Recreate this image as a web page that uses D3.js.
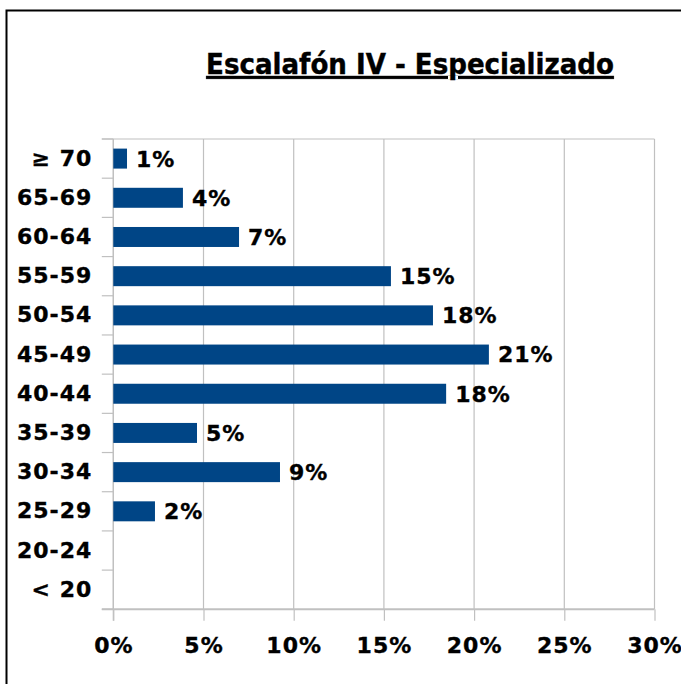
<!DOCTYPE html>
<html>
<head>
<meta charset="utf-8">
<script src="https://cdn.jsdelivr.net/npm/d3@7"></script>
<style>
  body { margin: 0; background: #fff; }
  text { font-family: "DejaVu Sans", Verdana, sans-serif; font-weight: bold; fill: #000; }
  .lbl { font-size: 22px; letter-spacing: 1px; stroke: #000; stroke-width: 0.35px; }
</style>
</head>
<body>
<script>
// Chart data
var chartTitle = "Escalafón IV - Especializado";
var ageGroups = ["≥ 70", "65-69", "60-64", "55-59", "50-54", "45-49", "40-44", "35-39", "30-34", "25-29", "20-24", "< 20"];
var shares = [0.0076, 0.0386, 0.0697, 0.1539, 0.1772, 0.2082, 0.1845, 0.0464, 0.0924, 0.0231, 0, 0];
var xTicks = [0, 0.05, 0.10, 0.15, 0.20, 0.25, 0.30];

// Sizes
var width = 681, height = 684;
var plot = {left: 113.3, right: 654.5, top: 139, bottom: 609.3};

var svg = d3.select("body").append("svg")
    .attr("width", width)
    .attr("height", height);

// Outer frame (top and left edges show)
svg.append("path")
    .attr("d", "M6.5,684 V10.5 H681")
    .attr("fill", "none")
    .attr("stroke", "#000")
    .attr("stroke-width", 2);

// Scales
var x = d3.scaleLinear()
    .domain([0, 0.30])
    .range([plot.left, plot.right]);

var y = d3.scaleBand()
    .domain(ageGroups)
    .range([plot.top, plot.bottom])
    .paddingInner(0.49)
    .paddingOuter(0.245);

var pct = d3.format(".0%");

// Title
svg.append("text")
    .attr("x", 410)
    .attr("y", 74)
    .attr("text-anchor", "middle")
    .style("font-family", "'DejaVu Sans Condensed', 'DejaVu Sans', sans-serif")
    .style("font-size", "29px")
    .style("text-decoration", "underline")
    .style("stroke", "#000")
    .style("stroke-width", "0.4px")
    .text(chartTitle);

// Vertical gridlines
svg.append("g")
    .selectAll("line")
    .data(xTicks)
    .enter().append("line")
    .attr("x1", function(d) { return x(d); })
    .attr("x2", function(d) { return x(d); })
    .attr("y1", plot.top)
    .attr("y2", plot.bottom)
    .attr("stroke", "#c0c0c0")
    .attr("stroke-width", 1.2);

// Top edge of plot area
svg.append("line")
    .attr("x1", plot.left - 11.5).attr("x2", plot.right)
    .attr("y1", plot.top).attr("y2", plot.top)
    .attr("stroke", "#c0c0c0")
    .attr("stroke-width", 1.2);

// X axis
var xAxis = d3.axisBottom(x)
    .tickValues(xTicks)
    .tickSize(11.5)
    .tickPadding(17)
    .tickFormat(pct);

var gx = svg.append("g")
    .attr("transform", "translate(0," + plot.bottom + ")")
    .call(xAxis);
gx.select(".domain").remove();
gx.append("line")
    .attr("x1", plot.left - 11.5).attr("x2", plot.right)
    .attr("stroke", "#c0c0c0")
    .attr("stroke-width", 2);
gx.selectAll(".tick line").attr("stroke", "#c0c0c0").attr("stroke-width", 1.2);
gx.selectAll(".tick text")
    .attr("class", "lbl")
    .attr("fill", "#000");

// Y axis: labels centred on bands, ticks on band boundaries
var yAxis = d3.axisLeft(y)
    .tickSize(0)
    .tickPadding(21);

var gy = svg.append("g")
    .attr("transform", "translate(" + plot.left + ",0)")
    .call(yAxis);
gy.select(".domain").remove();
gy.selectAll(".tick text")
    .attr("class", "lbl")
    .attr("fill", "#000");

gy.append("line")
    .attr("y1", plot.top).attr("y2", plot.bottom + 11.5)
    .attr("stroke", "#c0c0c0")
    .attr("stroke-width", 1.2);

var step = y.step();
gy.selectAll(".boundary")
    .data(d3.range(ageGroups.length + 1))
    .enter().append("line")
    .attr("class", "boundary")
    .attr("x1", -11.5).attr("x2", 0)
    .attr("y1", function(i) { return plot.top + i * step; })
    .attr("y2", function(i) { return plot.top + i * step; })
    .attr("stroke", "#c0c0c0")
    .attr("stroke-width", 1.2);

// Bars
svg.append("g")
    .selectAll("rect")
    .data(ageGroups)
    .enter().append("rect")
    .attr("x", x(0))
    .attr("y", function(d) { return y(d); })
    .attr("width", function(d, i) { return x(shares[i]) - x(0); })
    .attr("height", y.bandwidth())
    .attr("fill", "#004586");

// Value labels (only for groups with a bar)
svg.append("g")
    .selectAll("text")
    .data(ageGroups.filter(function(d, i) { return shares[i] > 0; }))
    .enter().append("text")
    .attr("class", "lbl")
    .attr("x", function(d) { return x(shares[ageGroups.indexOf(d)]) + 9; })
    .attr("y", function(d) { return y(d) + y.bandwidth() / 2; })
    .attr("dy", "0.36em")
    .text(function(d) { return pct(shares[ageGroups.indexOf(d)]); });
</script>
</body>
</html>
